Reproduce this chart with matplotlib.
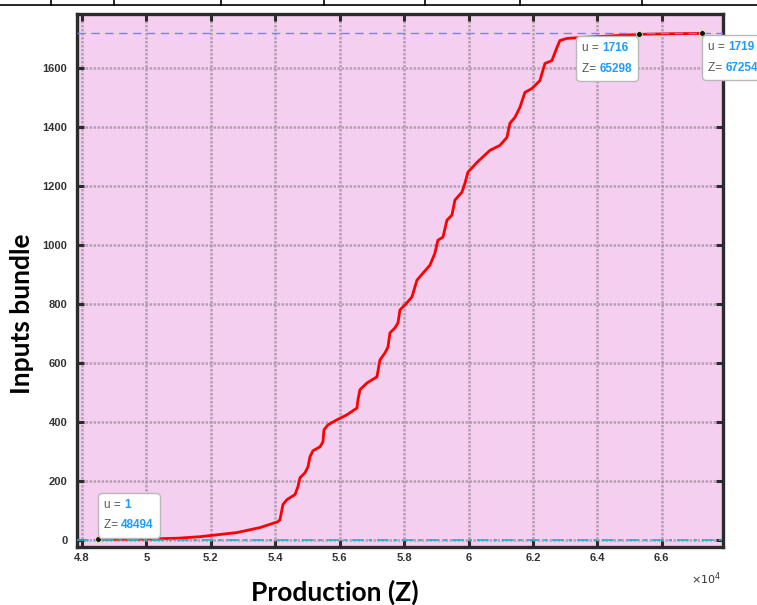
import matplotlib
matplotlib.use("Agg")
import matplotlib.pyplot as plt
from matplotlib.lines import Line2D
from matplotlib.font_manager import fontManager
from matplotlib.offsetbox import TextArea, HPacker, VPacker, AnnotationBbox
from matplotlib.ticker import FixedLocator, FuncFormatter

# Cumulative inputs bundle (u) against production level (Z)
production = [48494, 50000, 51000, 51663, 52811, 53525, 54084, 54146, 54239,
              54363, 54612, 54705, 54767, 54922, 55015, 55077, 55170, 55388,
              55481, 55512, 55636, 55916, 56226, 56536, 56567, 56629, 56846,
              57157, 57250, 57405, 57498, 57560, 57716, 57809, 57871, 58026,
              58243, 58398, 58585, 58802, 58957, 59050, 59205, 59330, 59485,
              59578, 59795, 59888, 59981, 60261, 60664, 60975, 61192, 61285,
              61440, 61596, 61751, 61968, 62216, 62372, 62589, 62744, 62837,
              63054, 63460, 64300, 65298, 66300, 67254]
inputs_bundle = [1, 2, 5, 10, 24, 41, 61, 68, 119,
                 136, 153, 180, 210, 227, 247, 281, 302, 315,
                 332, 373, 390, 407, 424, 447, 475, 509, 532,
                 553, 610, 634, 654, 702, 719, 736, 780, 797,
                 824, 881, 905, 932, 973, 1017, 1027, 1085, 1102,
                 1153, 1180, 1210, 1248, 1281, 1322, 1339, 1366, 1414,
                 1434, 1468, 1519, 1532, 1559, 1617, 1627, 1671, 1695,
                 1702, 1705, 1710, 1716, 1718, 1719]

upper_level = 1719
lower_level = 0

x_ticks = [48000, 50000, 52000, 54000, 56000, 58000, 60000, 62000, 64000, 66000]
y_ticks = [0, 200, 400, 600, 800, 1000, 1200, 1400, 1600]

# Data tips: (Z, u)
tip_z = [48494, 65298, 67254]
tip_u = [1, 1716, 1719]

installed = {f.name for f in fontManager.ttflist}
tip_family = ("Liberation Sans Narrow" if "Liberation Sans Narrow" in installed
              else "Liberation Sans")
tip_size = 9.5 if tip_family == "Liberation Sans Narrow" else 8.5

W, H = 757, 605
fig = plt.figure(figsize=(W / 100, H / 100), dpi=100)
fig.patch.set_facecolor("white")

ax = fig.add_axes([77 / W, 1 - 547 / H, (723 - 77) / W, (547 - 14) / H])
ax.set_facecolor("#f5cfef")

ax.plot(production, inputs_bundle, color="#ff0000", lw=2.0,
        solid_joinstyle="round", solid_capstyle="round", zorder=3)

ax.axhline(upper_level, color="#7f7ff2", lw=1.0, ls=(0, (6, 4)), zorder=4)
ax.axhline(lower_level, color="#22b3c3", lw=1.2, ls=(0, (7, 3, 2, 3)), zorder=4)

ax.plot(tip_z, tip_u, ls="none", marker="o", ms=4.2, mfc="#111111",
        mec="#e8e890", mew=0.6, zorder=6)

ax.set_xlim(47845, 67900)
ax.set_ylim(-25, 1785)

ax.xaxis.set_major_locator(FixedLocator(x_ticks))
ax.yaxis.set_major_locator(FixedLocator(y_ticks))
ax.xaxis.set_major_formatter(FuncFormatter(lambda v, p: "%g" % round(v / 1e4, 2)))
ax.yaxis.set_major_formatter(FuncFormatter(lambda v, p: "%d" % v))

ax.grid(True, color="#a494a4", lw=1.8, ls=(0, (1, 0.6)), alpha=0.8, zorder=1)
ax.set_axisbelow(True)

ax.tick_params(axis="both", direction="in", length=5, width=2.2,
               color="#2b2b2b", top=True, right=True,
               labelsize=8, labelcolor="#333333")
ax.tick_params(axis="x", pad=4)
ax.tick_params(axis="y", pad=7)
for lab in ax.get_xticklabels() + ax.get_yticklabels():
    lab.set_fontfamily("Liberation Sans")
    lab.set_fontweight("bold")

for s in ax.spines.values():
    s.set_color("#2b2b2b")
    s.set_linewidth(2.4)

# Data tip boxes
px = 0.72
gray = "#555555"
blue = "#1e9bff"
tip_layout = [((0, 0), (6 * px, 8 * px)),
              ((1, 1), (-7 * px, -8 * px)),
              ((0, 1), (6 * px, -8 * px))]
for z, u, (align, off) in zip(tip_z, tip_u, tip_layout):
    tprops_g = dict(color=gray, fontsize=tip_size, family=tip_family)
    tprops_b = dict(color=blue, fontsize=tip_size, family=tip_family,
                    fontweight="bold")
    row1 = HPacker(children=[TextArea("u = ", textprops=tprops_g),
                             TextArea(str(u), textprops=tprops_b)],
                   align="baseline", pad=0, sep=0)
    row2 = HPacker(children=[TextArea("Z= ", textprops=tprops_g),
                             TextArea(str(z), textprops=tprops_b)],
                   align="baseline", pad=0, sep=0)
    box = VPacker(children=[row1, row2], align="left", pad=0, sep=6)
    ab = AnnotationBbox(box, (z, u), xybox=off, xycoords="data",
                        boxcoords="offset points", box_alignment=align,
                        frameon=True, pad=0.4, annotation_clip=False,
                        bboxprops=dict(boxstyle="round,pad=0.45,rounding_size=0.3",
                                       fc="white", ec="#b8b8b8", lw=1.0),
                        zorder=7)
    ax.add_artist(ab)

# Axis titles and exponent
fig.text(335 / W, 1 - 592 / H, "Production (Z)", ha="center", va="center",
         fontsize=19, fontweight="bold", family="Lato", color="black")
fig.text(22 / W, 1 - 314 / H, "Inputs bundle", ha="center", va="center",
         rotation=90, fontsize=19, fontweight="bold", family="Lato", color="black")
fig.text(706 / W, 1 - 579 / H, r"$\times10^{4}$", ha="center", va="center",
         fontsize=8, color="#333333")

# Rule along the top edge
ytop = 1 - 5 / H
fig.add_artist(Line2D([0, 1], [ytop, ytop], transform=fig.transFigure,
                      color="black", lw=1.2))
for xv in [51, 114, 221, 324, 425, 520, 642]:
    fig.add_artist(Line2D([xv / W, xv / W], [ytop, 1], transform=fig.transFigure,
                          color="black", lw=1.2))

fig.savefig("out.png", dpi=100)
